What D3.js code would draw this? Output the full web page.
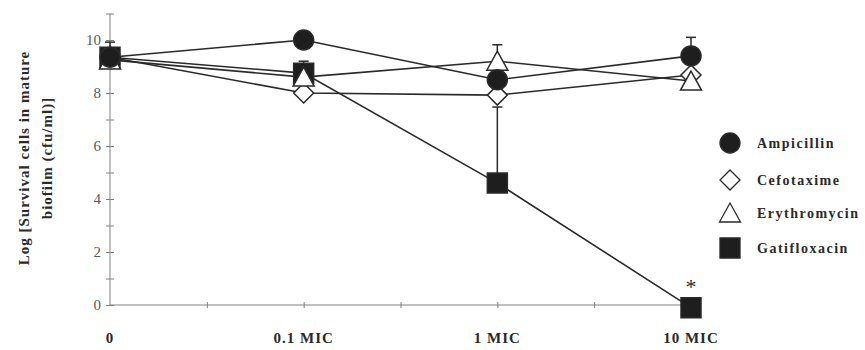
<!DOCTYPE html>
<html><head><meta charset="utf-8">
<script src="https://cdn.jsdelivr.net/npm/d3@7"></script>
<style>body{margin:0;background:#fff}svg{display:block}</style>
</head><body>
<svg id="c" width="865" height="350"></svg>
<script>
const categories = ["0", "0.1 MIC", "1 MIC", "10 MIC"];
const ampicillin = [9.35, 10.0, 8.5, 9.4];
const cefotaxime = [9.35, 8.0, 7.92, 8.68];
const erythromycin = [9.25, 8.6, 9.2, 8.45];
const gatifloxacin = [9.35, 8.75, 4.6, -0.1];
const ampicillinErr = [0.57, 0, 0, 0.7];
const cefotaximeErr = [0, 0, 0, 0];
const erythromycinErr = [0, 0.6, 0.62, 0];
const gatifloxacinErr = [0, 0, 2.87, 0];
const yTicks = [0, 2, 4, 6, 8, 10];
const seriesNames = ["Ampicillin", "Cefotaxime", "Erythromycin", "Gatifloxacin"];

const svg = d3.select("#c");
const x = d3.scaleLinear().domain([0, 3]).range([110, 691]);
const y = d3.scaleLinear().domain([0, 11]).range([305, 13.5]);
const ink = "#2a2a2a";
const axisCol = "#808080";
const serif = "'Liberation Serif', 'Times New Roman', serif";

// axes
const yAxis = svg.append("g").attr("transform", `translate(${x(0)},0)`)
  .call(d3.axisLeft(y).tickValues(d3.range(0, 12, 1)).tickSize(4).tickFormat(d => yTicks.includes(d) ? d : ""));
yAxis.selectAll(".tick line").attr("x2", 4).attr("x1", -4).attr("stroke", axisCol);
yAxis.select(".domain").attr("stroke", axisCol).attr("d", `M0,${y(11)}V${y(0)}`);
yAxis.selectAll(".tick text").attr("x", -9).attr("font-family", serif).attr("font-size", 15).attr("fill", "#5a5a5a");

const xAxis = svg.append("g").attr("transform", `translate(0,${y(0)})`)
  .call(d3.axisBottom(x).tickValues([0.5, 1, 1.5, 2, 2.5]).tickSize(3).tickFormat(""));
xAxis.selectAll(".tick line").attr("y1", -3).attr("y2", 3).attr("stroke", axisCol);
xAxis.select(".domain").attr("stroke", axisCol).attr("d", `M${x(0)},0H${x(3)}`);

// x category labels
svg.append("g").selectAll("text").data(categories).join("text")
  .attr("x", (d, i) => x(i)).attr("y", 343)
  .attr("text-anchor", "middle").attr("font-family", serif).attr("font-weight", "bold")
  .attr("font-size", 15).attr("letter-spacing", "1px").attr("fill", ink).text(d => d);

// y title
const yt = svg.append("text").attr("transform", "translate(0,158) rotate(-90)")
  .attr("text-anchor", "middle").attr("font-family", serif).attr("font-weight", "bold")
  .attr("font-size", 15).attr("letter-spacing", "1px").attr("fill", ink);
yt.append("tspan").attr("x", 0).attr("y", 29).text("Log [Survival cells in mature");
yt.append("tspan").attr("x", 0).attr("y", 52).text("biofilm (cfu/ml)]");

const shapes = {
  circle: "M0,-10A10,10 0 1,1 0,10A10,10 0 1,1 0,-10Z",
  diamond: "M0,-10L10,0L0,10L-10,0Z",
  triangle: "M0,-10L10.5,9L-10.5,9Z",
  square: "M-10,-10H10V10H-10Z"
};
const series = [
  {name: "Gatifloxacin", vals: gatifloxacin, err: gatifloxacinErr, shape: "square", fill: "#1e1e1e"},
  {name: "Cefotaxime", vals: cefotaxime, err: cefotaximeErr, shape: "diamond", fill: "#fff"},
  {name: "Erythromycin", vals: erythromycin, err: erythromycinErr, shape: "triangle", fill: "#fff"},
  {name: "Ampicillin", vals: ampicillin, err: ampicillinErr, shape: "circle", fill: "#1e1e1e"}
];
const line = d3.line().x((d, i) => x(i)).y(d => y(d));

// error bars
series.forEach(s => {
  const g = svg.append("g").attr("stroke", ink).attr("stroke-width", 1.5);
  s.vals.forEach((v, i) => {
    if (!s.err[i]) return;
    g.append("line").attr("x1", x(i)).attr("x2", x(i)).attr("y1", y(v)).attr("y2", y(v + s.err[i]));
    g.append("line").attr("x1", x(i) - 5).attr("x2", x(i) + 5).attr("y1", y(v + s.err[i])).attr("y2", y(v + s.err[i]));
  });
});
// lines
series.forEach(s => {
  svg.append("path").attr("d", line(s.vals)).attr("fill", "none").attr("stroke", ink).attr("stroke-width", 1.6);
});
// markers
series.forEach(s => {
  svg.append("g").selectAll("path").data(s.vals).join("path")
    .attr("transform", (d, i) => `translate(${x(i)},${y(d)})`)
    .attr("d", shapes[s.shape]).attr("fill", s.fill).attr("stroke", ink).attr("stroke-width", 1.5);
});

// asterisk
svg.append("text").attr("x", x(3)).attr("y", 294).attr("text-anchor", "middle")
  .attr("font-family", serif).attr("font-size", 22).attr("fill", ink).text("*");

// legend
const legendShapes = {Ampicillin: "circle", Cefotaxime: "diamond", Erythromycin: "triangle", Gatifloxacin: "square"};
const legendFill = {Ampicillin: "#1e1e1e", Cefotaxime: "#fff", Erythromycin: "#fff", Gatifloxacin: "#1e1e1e"};
const legendY = [143, 180, 213, 248];
const lg = svg.append("g");
seriesNames.forEach((n, i) => {
  lg.append("path").attr("transform", `translate(730,${legendY[i]})`).attr("d", shapes[legendShapes[n]])
    .attr("fill", legendFill[n]).attr("stroke", ink).attr("stroke-width", 1.3);
  lg.append("text").attr("x", 757).attr("y", legendY[i]).attr("dy", "0.35em")
    .attr("font-family", serif).attr("font-weight", "bold").attr("font-size", 14)
    .attr("letter-spacing", "1.5px").attr("fill", ink).text(n);
});
</script>
</body></html>
